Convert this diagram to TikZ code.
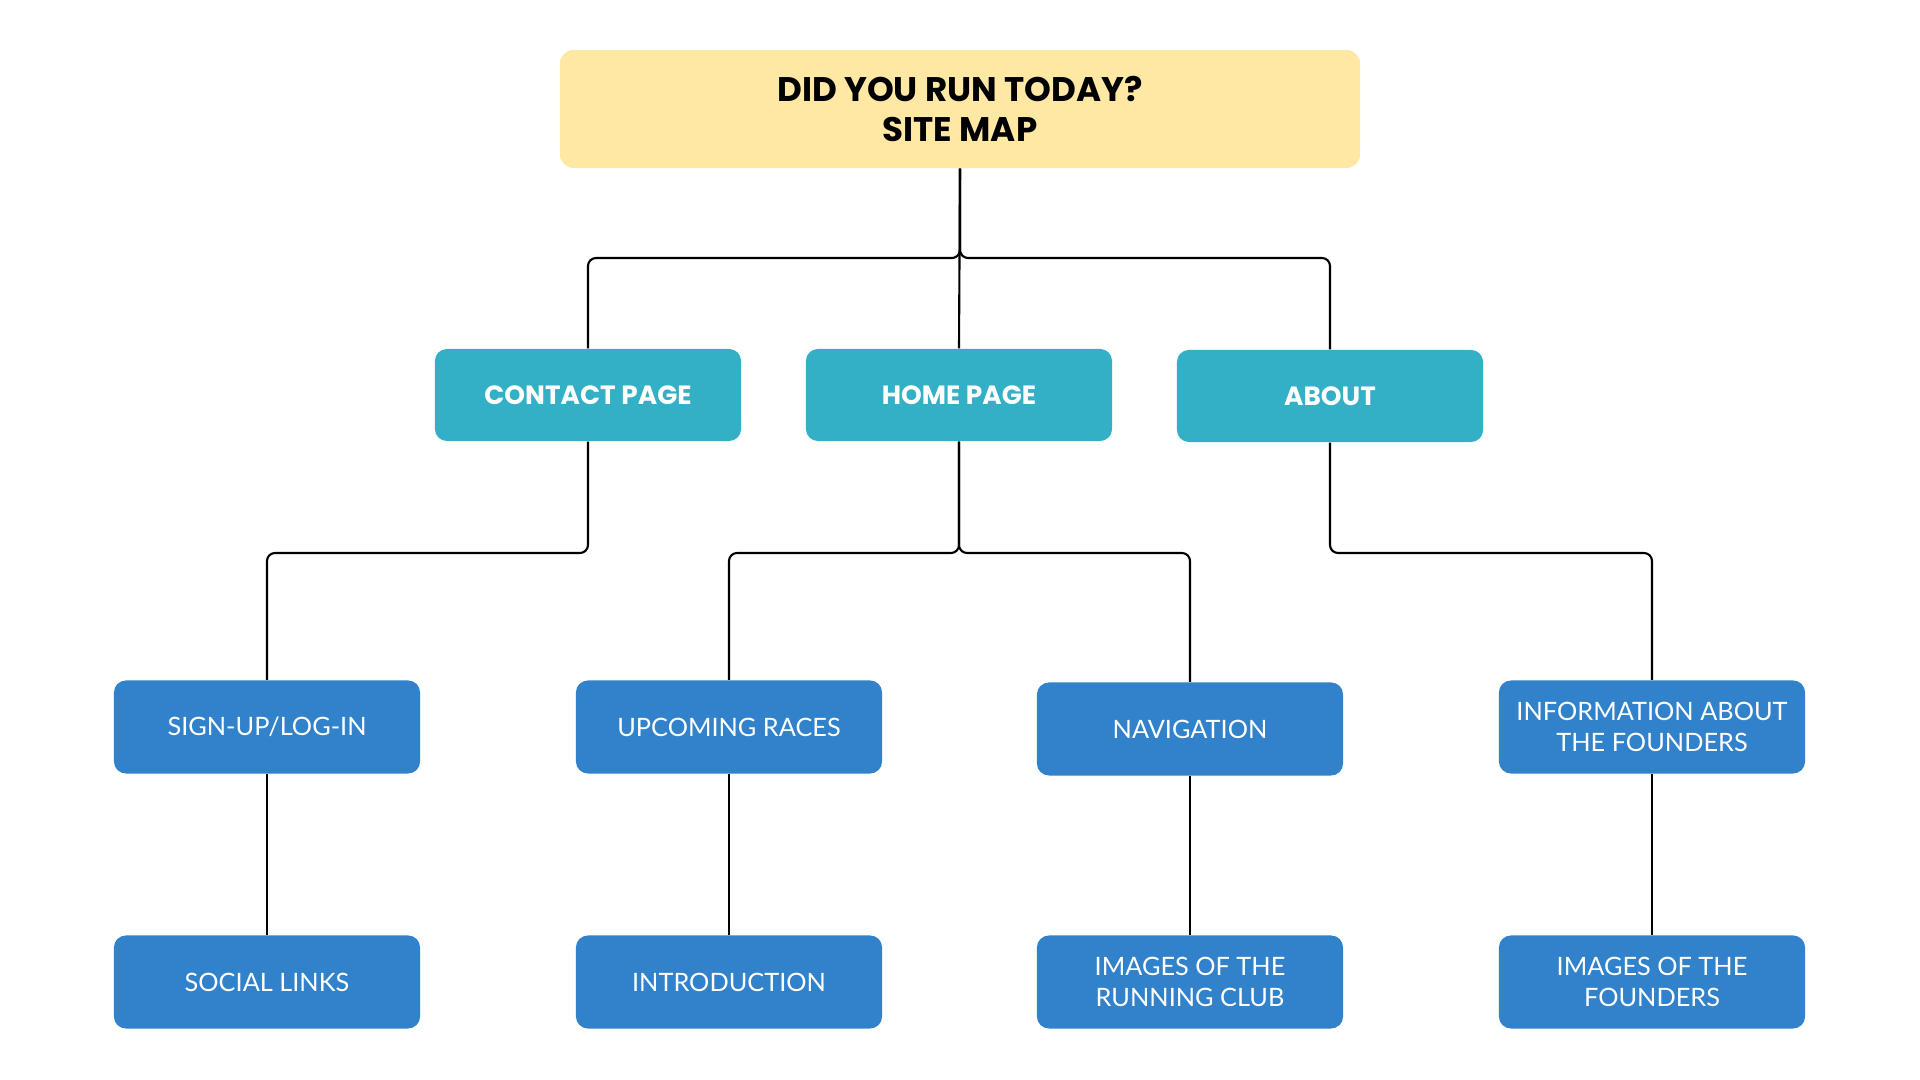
\documentclass[tikz,border=0pt]{standalone}
\usepackage{fontspec}
\setmainfont{Lato}
\newfontfamily\headfont{Poppins}
\definecolor{titleyellow}{RGB}{255,232,163}
\definecolor{pageteal}{RGB}{51,176,198}
\definecolor{itemblue}{RGB}{49,130,202}
\tikzset{
  sitetitle/.style={fill=titleyellow, rounded corners=0.14cm, minimum width=8cm, minimum height=1.18cm, align=center, font=\headfont\bfseries\fontsize{9.7}{11.2}\selectfont},
  pagebox/.style={fill=pageteal, text=white, rounded corners=0.12cm, minimum width=3.06cm, minimum height=0.92cm, font=\headfont\bfseries\fontsize{7.5}{9}\selectfont},
  itembox/.style={fill=itemblue, text=white, rounded corners=0.12cm, minimum width=3.06cm, minimum height=0.93cm, align=center, font=\fontsize{7.2}{8.6}\selectfont},
  link/.style={line width=0.6pt, rounded corners=0.08cm}
}
\begin{document}
\begin{tikzpicture}[x=0.01cm,y=-0.01cm]
        \useasboundingbox (0,0) rectangle (1920,1080);
        %% title
        \node[sitetitle] (title) at (960,109) {DID YOU RUN TODAY?\\SITE MAP};
        %% main pages
        \node[pagebox] (contact) at (588,395) {CONTACT PAGE};
        \node[pagebox] (home) at (959,395) {HOME PAGE};
        \node[pagebox] (about) at (1330,396) {ABOUT};
        %% sections
        \node[itembox] (signup) at (267,727) {SIGN-UP/LOG-IN};
        \node[itembox] (races) at (729,727) {UPCOMING RACES};
        \node[itembox] (navi) at (1190,729) {NAVIGATION};
        \node[itembox] (info) at (1652,727) {INFORMATION ABOUT\\THE FOUNDERS};
        \node[itembox] (social) at (267,982) {SOCIAL LINKS};
        \node[itembox] (intro) at (729,982) {INTRODUCTION};
        \node[itembox] (club) at (1190,982) {IMAGES OF THE\\RUNNING CLUB};
        \node[itembox] (founders) at (1652,982) {IMAGES OF THE\\FOUNDERS};
        %% links
        \coordinate (jtop) at (960,258);
        \coordinate (jcontact) at (588,553);
        \coordinate (jhome) at (959,553);
        \coordinate (jabout) at (1330,553);
        \draw[link] (title.south) -- (jtop) -| (contact.north);
        \draw[link] (title.south) -- (jtop) -| (about.north);
        \draw[link] (title.south) -- (home.north);
        \draw[link] (contact.south) -- (jcontact) -| (signup.north);
        \draw[link] (home.south) -- (jhome) -| (races.north);
        \draw[link] (home.south) -- (jhome) -| (navi.north);
        \draw[link] (about.south) -- (jabout) -| (info.north);
        \foreach \a/\b in {signup/social,races/intro,navi/club,info/founders}
            \draw[link] (\a.south) -- (\b.north);
\end{tikzpicture}
\end{document}
